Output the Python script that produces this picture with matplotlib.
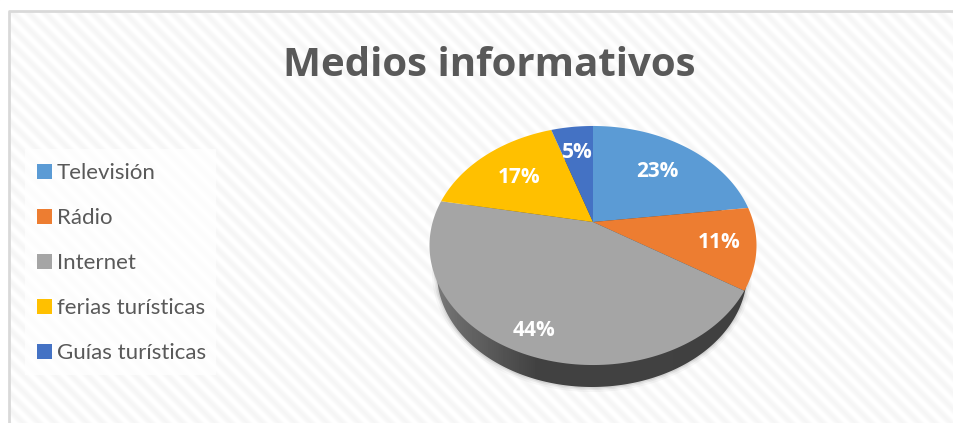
import numpy as np
import matplotlib
matplotlib.use("Agg")
import matplotlib.pyplot as plt
from matplotlib.patches import Rectangle, Polygon

categories = ["Televisión", "Rádio", "Internet", "ferias turísticas", "Guías turísticas"]
values = [23, 11, 44, 17, 5]
colors = ["#5B9BD5", "#ED7D31", "#A5A5A5", "#FFC000", "#4472C4"]
title = "Medios informativos"

W, H = 954, 423
plt.rcParams["font.family"] = ["Open Sans", "DejaVu Sans"]

fig = plt.figure(figsize=(W / 100, H / 100), dpi=100)
ax = fig.add_axes([0, 0, 1, 1])

# striped chart area background
yy, xx = np.mgrid[0:H, 0:W]
stripes = 0.5 + 0.5 * np.cos(2 * np.pi * (xx - yy) / 16)
ax.imshow(1 - 0.04 * stripes, cmap="gray", vmin=0, vmax=1, extent=(0, W, H, 0),
          aspect="auto", interpolation="bilinear", zorder=0)
ax.add_patch(Rectangle((0, 0), W, 10, color="white", zorder=1))
ax.add_patch(Rectangle((0, 0), 8, H, color="white", zorder=1))
ax.plot([9.5, 9.5, W], [H, 11, 11], color="#D9D9D9", lw=2, zorder=2)

# perspective pie, circle is projected so the apex sits above the ellipse centre
cx, cy = 593, 222
sx, sy, k = 160.3, 114.9, 0.1967


def project(a):
    x, y = np.sin(a), np.cos(a)
    w = 1 + k * y
    return cx + sx * x / w, cy - sy * y / w


# underside is a slightly smaller ellipse, only its lower rim shows
t = np.linspace(0, 2 * np.pi, 300)
bx = 592 + 155 * np.cos(t)
by = 273 + 114 * np.sin(t)

# soft shadow under the pie
for grow, alpha in [(5, 0.03), (3, 0.05), (1.5, 0.07)]:
    ax.fill(592 + (155 + grow) * np.cos(t), 273 + (114 + grow) * np.sin(t),
            color="black", alpha=alpha, lw=0, zorder=3)

clip = Polygon(np.c_[bx, by], closed=True, transform=ax.transData, fc="none", ec="none")
ax.add_patch(clip)
shade = np.interp(np.arange(430, 760), [430, 455, 535, 760], [0.50, 0.42, 0.26, 0.25])
im = ax.imshow(shade[None, :], cmap="gray", vmin=0, vmax=1, extent=(430, 760, 395, 150),
               aspect="auto", zorder=4)
im.set_clip_path(clip)

# top face
fracs = np.cumsum([0] + values) / sum(values)
for i, c in enumerate(colors):
    a = np.linspace(fracs[i], fracs[i + 1], 120) * 2 * np.pi
    wx, wy = project(a)
    ax.fill(np.r_[cx, wx], np.r_[cy, wy], color=c, lw=0, zorder=5)

label_pos = [(657, 177), (719, 248), (534, 336), (519, 183), (577, 158)]
for v, (lx, ly) in zip(values, label_pos):
    ax.text(lx, ly, f"{v}%", color="white", fontsize=15, fontweight="bold",
            ha="center", va="baseline", zorder=6)

ax.text(489.5, 76, title, color="#595959", fontsize=29, fontweight="bold",
        ha="center", va="baseline", zorder=6)

# legend
ax.add_patch(Rectangle((25, 149), 191, 226, fc="white", alpha=0.75, lw=0, zorder=3))
for i, (name, c) in enumerate(zip(categories, colors)):
    y = 172 + i * 45
    ax.add_patch(Rectangle((37, y - 7.5), 15, 15, fc=c, lw=0, zorder=6))
    ax.text(57, y + 7, name, color="#595959", fontsize=16, family=["Lato", "DejaVu Sans"],
            ha="left", va="baseline", zorder=6)

ax.set_xlim(0, W)
ax.set_ylim(H, 0)
ax.axis("off")
fig.savefig("out.png", dpi=100)
